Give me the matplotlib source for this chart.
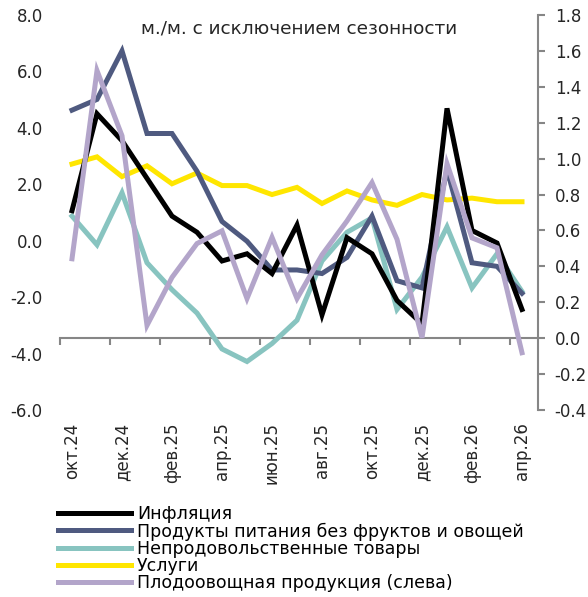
import numpy as np
import matplotlib
matplotlib.use('Agg')
from matplotlib import pyplot as plt
from matplotlib.ticker import MultipleLocator, FormatStrFormatter

plt.rcParams['font.family'] = ['DejaVu Sans']

months = ['окт.24', 'ноя.24', 'дек.24', 'янв.25', 'фев.25', 'мар.25', 'апр.25',
          'май.25', 'июн.25', 'июл.25', 'авг.25', 'сен.25', 'окт.25', 'ноя.25',
          'дек.25', 'янв.26', 'фев.26', 'мар.26', 'апр.26']

# right axis series
inflation = [0.71, 1.25, 1.10, 0.89, 0.68, 0.59, 0.43, 0.47, 0.36, 0.63,
             0.13, 0.56, 0.47, 0.21, 0.08, 1.28, 0.60, 0.53, 0.16]
food_ex_fv = [1.27, 1.33, 1.60, 1.14, 1.14, 0.93, 0.65, 0.54, 0.38, 0.38,
              0.36, 0.45, 0.68, 0.32, 0.28, 0.94, 0.42, 0.40, 0.25]
nonfood = [0.68, 0.52, 0.81, 0.42, 0.27, 0.14, -0.06, -0.13, -0.03, 0.10,
           0.43, 0.59, 0.67, 0.16, 0.34, 0.62, 0.28, 0.47, 0.26]
services = [0.97, 1.01, 0.90, 0.96, 0.86, 0.92, 0.85, 0.85, 0.80, 0.84,
            0.75, 0.82, 0.77, 0.74, 0.80, 0.77, 0.78, 0.76, 0.76]
# left axis series
fruit_veg = [-0.64, 6.03, 3.72, -3.0, -1.3, -0.1, 0.35, -2.05, 0.12, -2.05,
             -0.5, 0.7, 2.06, 0.05, -3.44, 2.73, 0.1, -0.25, -3.97]

labels = ['Инфляция', 'Продукты питания без фруктов и овощей',
          'Непродовольственные товары', 'Услуги',
          'Плодоовощная продукция (слева)']
colors = ['#000000', '#4f5a80', '#88c4c0', '#ffe600', '#b3a5ca']

x = np.arange(len(months))
grey = '#868686'
lw = 3.6

fig = plt.figure(figsize=(5.88, 5.97), dpi=100)
ax = fig.add_axes([59.5 / 588, 1 - 410 / 597, (538 - 59.5) / 588, 395 / 597])
ax2 = ax.twinx()

# secondary axis lines
right_series = [inflation, food_ex_fv, nonfood, services]
zorders = [5, 4, 3, 2]
handles = []
for vals, c, lab, z in zip(right_series, colors[:4], labels[:4], zorders):
    h, = ax2.plot(x, vals, color=c, lw=lw, label=lab, zorder=z,
                  solid_joinstyle='miter')
    handles.append(h)

h, = ax.plot(x, fruit_veg, color=colors[4], lw=lw, label=labels[4],
             solid_joinstyle='miter')
handles.append(h)

ax.set_zorder(ax2.get_zorder() + 1)
ax.patch.set_visible(False)

ax.set_xlim(-0.5, 18.64)
ax.set_ylim(-6, 8)
ax2.set_ylim(-0.4, 1.8)

ax.yaxis.set_major_locator(MultipleLocator(2))
ax.yaxis.set_major_formatter(FormatStrFormatter('%.1f'))
ax2.yaxis.set_major_locator(MultipleLocator(0.2))
ax2.yaxis.set_major_formatter(FormatStrFormatter('%.1f'))

ax.set_xticks(x[::2])
ax.set_xticklabels(months[::2], rotation=90)
ax.set_xticks(np.arange(-0.5, 18, 2), minor=True)

for s in ax.spines.values():
    s.set_visible(False)
ax.tick_params(axis='y', length=0, pad=12, labelsize=12, labelcolor='#262626')
ax.tick_params(axis='x', which='both', length=0, pad=9, labelsize=12,
               labelcolor='#262626')

ax2.xaxis.set_visible(True)
ax2.spines['top'].set_visible(False)
ax2.spines['left'].set_visible(False)
ax2.spines['right'].set_color(grey)
ax2.spines['right'].set_linewidth(1.5)
ax2.spines['bottom'].set_color(grey)
ax2.spines['bottom'].set_linewidth(1.5)
ax2.spines['bottom'].set_position(('data', 0))
ax2.tick_params(axis='x', which='major', length=0, labelbottom=False)
ax2.tick_params(axis='x', which='minor', length=5, width=1.5, color=grey,
                direction='out', labelbottom=False)
ax2.tick_params(axis='y', length=5, width=1.5, color=grey, pad=7,
                labelsize=12, labelcolor='#262626')

ax.text(0.5, 0.967, 'м./м. с исключением сезонности', transform=ax.transAxes,
        ha='center', va='center', fontsize=13.3, color='#262626')

fig.legend(handles=handles, labels=labels, loc='upper left',
           bbox_to_anchor=(58 / 588, 1 - 505 / 597), frameon=False,
           fontsize=12.5, handlelength=4.2, handletextpad=0.35,
           labelspacing=-0.04, borderpad=0, borderaxespad=0)

plt.savefig('out.png', dpi=100)
